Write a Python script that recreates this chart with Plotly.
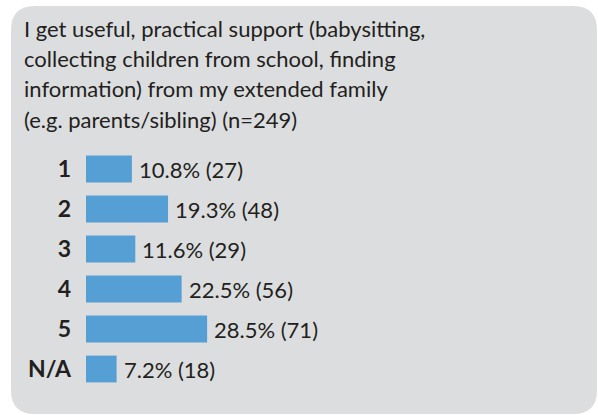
import plotly.graph_objects as go

# data
categories = ["1", "2", "3", "4", "5", "N/A"]
percents = [10.8, 19.3, 11.6, 22.5, 28.5, 7.2]
counts = [27, 48, 29, 56, 71, 18]
title_lines = [
    "I get useful, practical support (babysitting,",
    "collecting children from school, finding",
    "information) from my extended family",
    "(e.g. parents/sibling) (n=249)",
]

W, H = 598, 415
FONT = "Lato"
INK = "#231f20"
BAR = "#569fd4"
BOX = "#dcdddf"

labels = [f"{p}% ({n})" for p, n in zip(percents, counts)]

fig = go.Figure(go.Bar(
    x=percents, y=categories, orientation="h",
    marker=dict(color=BAR, line=dict(width=0)),
    width=0.67,
    hoverinfo="skip",
))

# value labels to the right of each bar
# (numeric y = category index, since "1".."5" would be read as numbers)
for i, (p, t) in enumerate(zip(percents, labels)):
    fig.add_annotation(
        text=t, x=p, y=i, xanchor="left", yanchor="middle",
        xshift=5, showarrow=False,
        font=dict(family=FONT, size=22, color=INK),
    )


def px(x):
    return x / W


def py(y):
    return 1 - y / H


# rounded grey panel
x0, x1, y0, y1, r = 11, 597, 6, 414, 24
path = (
    f"M {px(x0 + r)},{py(y0)} L {px(x1 - r)},{py(y0)} "
    f"Q {px(x1)},{py(y0)} {px(x1)},{py(y0 + r)} "
    f"L {px(x1)},{py(y1 - r)} Q {px(x1)},{py(y1)} {px(x1 - r)},{py(y1)} "
    f"L {px(x0 + r)},{py(y1)} Q {px(x0)},{py(y1)} {px(x0)},{py(y1 - r)} "
    f"L {px(x0)},{py(y0 + r)} Q {px(x0)},{py(y0)} {px(x0 + r)},{py(y0)} Z"
)
fig.add_shape(type="path", path=path, xref="paper", yref="paper",
              fillcolor=BOX, line=dict(width=0), layer="below")

for i, line in enumerate(title_lines):
    fig.add_annotation(
        text=line, xref="paper", yref="paper",
        x=px(22), y=py(13 + i * 30.2), xanchor="left", yanchor="top",
        showarrow=False, font=dict(family=FONT, size=22, color=INK),
    )

fig.update_layout(
    width=W, height=H,
    margin=dict(l=0, r=0, t=0, b=0),
    paper_bgcolor="white", plot_bgcolor="rgba(0,0,0,0)",
    showlegend=False,
    xaxis=dict(domain=[px(86), px(86 + 425)], range=[0, 100],
               visible=False, fixedrange=True),
    yaxis=dict(domain=[py(389), py(149)], autorange="reversed",
               type="category",
               tickmode="array", tickvals=categories,
               ticktext=[f"<b>{c}</b>" for c in categories],
               tickfont=dict(family=FONT, size=23, color=INK),
               ticks="", showline=False, showgrid=False, zeroline=False,
               ticklabelstandoff=14, fixedrange=True),
    font=dict(family=FONT, color=INK),
)

# page body has a default 8px margin; drop it so the figure sits at 0,0
fig.write_html("out.html", config={"displayModeBar": False},
               post_script="document.body.style.margin='0';")
